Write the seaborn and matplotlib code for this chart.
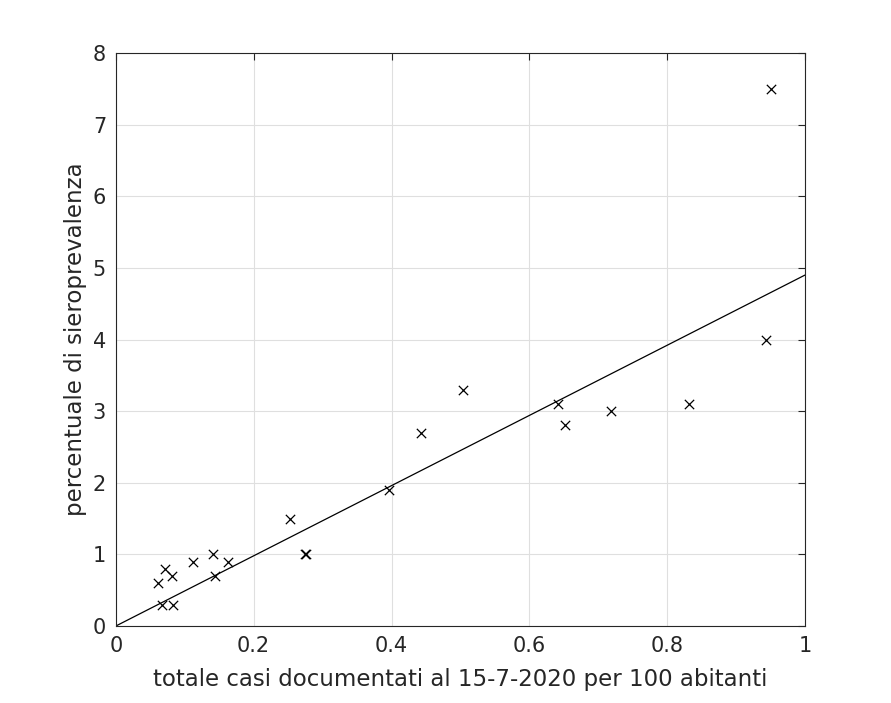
import numpy as np
import pandas as pd
import matplotlib.pyplot as plt
import seaborn as sns

sns.set_style('whitegrid')

# totale casi per 100 abitanti vs sieroprevalenza (%)
casi = [0.951, 0.943, 0.832, 0.718, 0.652, 0.641, 0.504, 0.443, 0.396, 0.253,
        0.274, 0.276, 0.163, 0.141, 0.144, 0.112, 0.071, 0.081, 0.061, 0.067, 0.083]
siero = [7.5, 4.0, 3.1, 3.0, 2.8, 3.1, 3.3, 2.7, 1.9, 1.5,
         1.0, 1.0, 0.9, 1.0, 0.7, 0.9, 0.8, 0.7, 0.6, 0.3, 0.3]
slope = 4.9
fit_x = [0, 1]

df = pd.DataFrame({'casi': casi, 'siero': siero})

fig = plt.figure(figsize=(8.91, 7.03), dpi=100)
ax = fig.add_axes([0.130, 0.1095, 0.7735, 0.8151])

sns.scatterplot(data=df, x='casi', y='siero', marker='x', color='black',
                s=45, linewidth=0.9, ax=ax)
sns.lineplot(x=fit_x, y=[slope * v for v in fit_x], color='black', linewidth=0.9, ax=ax)

ax.set_xlim(0, 1)
ax.set_ylim(0, 8)
ax.set_xticks(np.arange(0, 1.01, 0.2))
ax.set_xticklabels(['0', '0.2', '0.4', '0.6', '0.8', '1'])
ax.set_yticks(range(0, 9))
ax.grid(True, color='#dfdfdf', linewidth=0.8)
for sp in ax.spines.values():
    sp.set_color('#262626')
    sp.set_linewidth(0.8)
ax.tick_params(direction='in', length=5, width=0.8, colors='#262626',
               labelsize=15, top=True, right=True, pad=7)
ax.set_xlabel('totale casi documentati al 15-7-2020 per 100 abitanti', fontsize=16.5,
              color='#262626', labelpad=9)
ax.set_ylabel('percentuale di sieroprevalenza', fontsize=16.5, color='#262626', labelpad=4)

fig.savefig('out.png', dpi=100)
